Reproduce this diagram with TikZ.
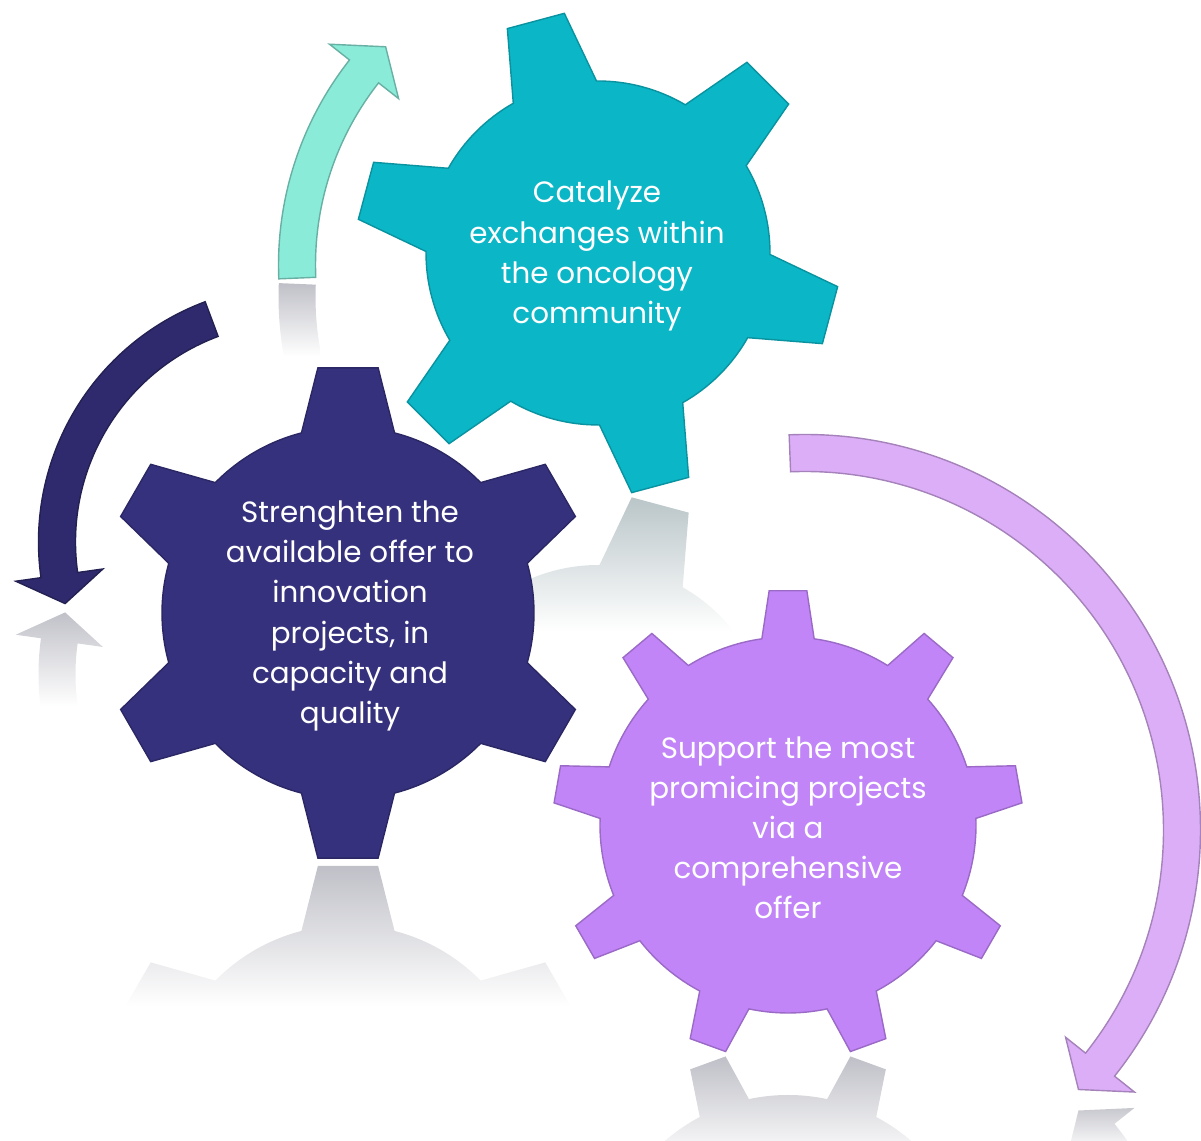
\documentclass[tikz,border=0pt]{standalone}
\usepackage{fontspec}
\setmainfont{Poppins}
\usetikzlibrary{fadings}

\definecolor{gearteal}{RGB}{11,183,199}
\definecolor{gearnavy}{RGB}{53,49,125}
\definecolor{gearlilac}{RGB}{193,133,248}
\definecolor{flowteal}{RGB}{138,235,217}
\definecolor{flownavy}{RGB}{47,42,110}
\definecolor{flowlilac}{RGB}{220,174,248}
\definecolor{reflgray}{RGB}{178,179,188}
\definecolor{reflteal}{RGB}{172,186,190}

\tikzfading[name=reflfade, top color=transparent!15, bottom color=transparent!100]

\begin{document}
\begin{tikzpicture}[every node/.style={font=\fontsize{8.35}{11.4}\selectfont, text=white, align=center},
    gearbody/.style={fill=#1, draw=#1!80!black, line width=0.4pt},
    flowbody/.style={fill=#1, draw=#1!75!black, line width=0.4pt}]
\def\halfw{0.185}
\def\barbw{0.44}

% Macro for gear outline (teeth, body r, tip r, first tooth, base half angle, tip half angle)
\newcommand{\gearpath}[6]{
    ({#4+#5}:#2) \foreach \k [evaluate=\k as \a using #4+(\k-1)*360/#1,
                              evaluate=\k as \b using #4+\k*360/#1] in {1,...,#1}{
        arc[start angle=\a+#5, end angle=\b-#5, radius=#2]
        -- ({\b-#6}:#3) -- ({\b+#6}:#3) -- ({\b+#5}:#2)
    } -- cycle
}

% Macro for curved arrow (radius, start angle, head angle, tip angle)
\newcommand{\flowpath}[4]{
    ({#2}:{#1+\halfw}) arc[start angle=#2, end angle=#3, radius=#1+\halfw]
    -- ({#3}:{#1+\barbw}) -- ({#4}:{#1}) -- ({#3}:{#1-\barbw}) -- ({#3}:{#1-\halfw})
    arc[start angle=#3, end angle=#2, radius=#1-\halfw] -- cycle
}

% Macro for mirrored reflection
\newcommand{\reflection}[5]{
    \begin{scope}
        \clip[shift={#2}, yscale=-1] #3;
        \fill[#1, path fading=reflfade] #4 rectangle #5;
    \end{scope}
}

\useasboundingbox (0,0) rectangle (12.01,11.41);

% Reflections
\reflection{reflgray}{(6.10,8.44)}{\flowpath{3.13}{182.4}{141.8}{135.8}}{(2.70,8.60)}{(3.20,7.85)}
\reflection{reflgray}{(2.95,4.67)}{\flowpath{2.38}{110.5}{188}{195}}{(0,5.33)}{(1.2,4.35)}
\reflection{reflgray}{(8.05,-2.29)}{\flowpath{3.77}{92.3}{-38.5}{-43.5}}{(10.5,0.41)}{(11.8,-0.1)}
\reflection{reflteal}{(5.98,4.04)}{\gearpath{6}{1.72}{2.42}{105}{14.5}{7}}{(4.4,6.46)}{(7.6,5.1)}
\reflection{reflgray}{(3.48,0.30)}{\gearpath{6}{1.86}{2.47}{90}{14.5}{7}}{(0.9,2.79)}{(6.1,1.35)}
\reflection{reflgray}{(7.88,-1.42)}{\gearpath{9}{1.88}{2.35}{90}{8}{4.6}}{(5.4,0.87)}{(10.2,-0.2)}

% Arrows
\begin{scope}[shift={(6.10,8.76)}]
    \draw[flowbody=flowteal] \flowpath{3.13}{182.4}{141.8}{135.8};
\end{scope}
\begin{scope}[shift={(2.95,5.99)}]
    \draw[flowbody=flownavy] \flowpath{2.38}{110.5}{188}{195};
\end{scope}
\begin{scope}[shift={(8.05,3.11)}]
    \draw[flowbody=flowlilac] \flowpath{3.77}{92.3}{-38.5}{-43.5};
\end{scope}

% Gears
\begin{scope}[shift={(7.88,3.16)}]
    \draw[gearbody=gearlilac] \gearpath{9}{1.88}{2.35}{90}{8}{4.6};
\end{scope}
\begin{scope}[shift={(3.48,5.28)}]
    \draw[gearbody=gearnavy] \gearpath{6}{1.86}{2.47}{90}{14.5}{7};
\end{scope}
\begin{scope}[shift={(5.98,8.88)}]
    \draw[gearbody=gearteal] \gearpath{6}{1.72}{2.42}{105}{14.5}{7};
\end{scope}

% Texts
\node (catalyze) at (5.97,8.85) {Catalyze\\exchanges within\\the oncology\\community};
\node (strengthen) at (3.50,5.25) {Strenghten the\\available offer to\\innovation\\projects, in\\capacity and\\quality};
\node (support) at (7.88,3.13) {Support the most\\promicing projects\\via a\\comprehensive\\offer};

\end{tikzpicture}
\end{document}
